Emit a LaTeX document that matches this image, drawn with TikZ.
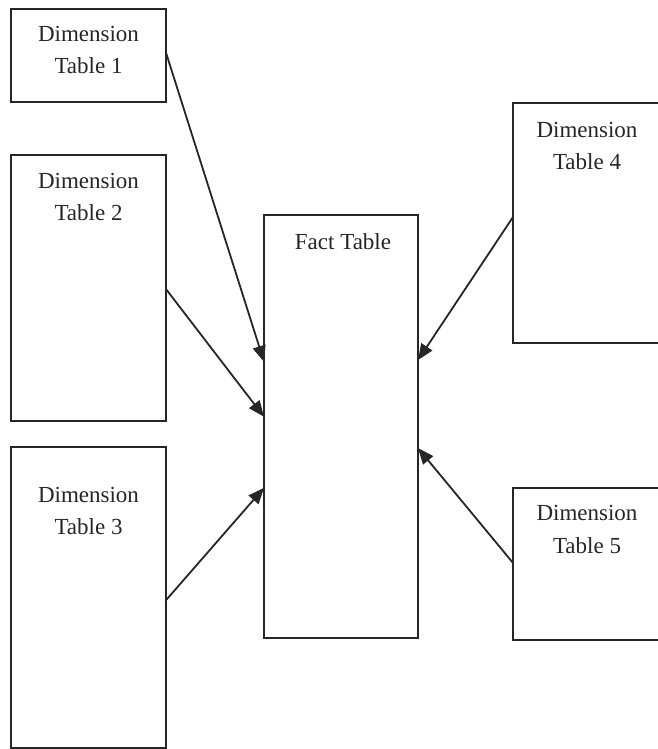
\documentclass[tikz,border=0pt]{standalone}
\usepackage{fontspec}
\setmainfont{Liberation Serif}
\usetikzlibrary{arrows.meta,calc}

\tikzset{
  tablebox/.style={draw=black!85, line width=2pt, fill=white, inner sep=0pt, outer sep=0pt},
  caption/.style={anchor=base, inner sep=0pt, text=black!85, font=\fontsize{23}{23}\selectfont},
  link/.style={draw=black!85, line width=1.8pt, -{Triangle[length=16pt,width=13pt]}}
}

% box with corners (x1,y1) and (x2,y2), measured downward from the top
\newcommand{\tablenode}[5]{%
  \node[tablebox, minimum width={(#4-#2)*1pt}, minimum height={(#5-#3)*1pt}]
    (#1) at ({(#2+#4)/2},{(#3+#5)/2}) {};}

\begin{document}
\begin{tikzpicture}[x=1pt,y=-1pt]
\useasboundingbox[fill=white] (0,0) rectangle (658,749);

% dimension tables on the left
\tablenode{d1}{11}{9}{166}{102}
\tablenode{d2}{11}{155}{166}{421}
\tablenode{d3}{11}{447}{166}{748}
% fact table in the middle
\tablenode{fact}{264}{215}{418}{638}
% dimension tables on the right
\tablenode{d4}{513}{103}{661}{343}
\tablenode{d5}{513}{488}{661}{640}

% captions
\node[caption] (d1a) at ([yshift=-33pt]d1.north) {Dimension};
\node[caption] (d1b) at ([yshift=-65pt]d1.north) {Table 1};
\node[caption] (d2a) at ([yshift=-33pt]d2.north) {Dimension};
\node[caption] (d2b) at ([yshift=-65pt]d2.north) {Table 2};
\node[caption] (d3a) at ([yshift=-55pt]d3.north) {Dimension};
\node[caption] (d3b) at ([yshift=-87pt]d3.north) {Table 3};
\node[caption] (d4a) at ([yshift=-35pt]d4.north) {Dimension};
\node[caption] (d4b) at ([yshift=-66pt]d4.north) {Table 4};
\node[caption] (d5a) at ([yshift=-32pt]d5.north) {Dimension};
\node[caption] (d5b) at ([yshift=-65pt]d5.north) {Table 5};
\node[caption] (facta) at ([xshift=2pt,yshift=-34pt]fact.north) {Fact Table};

% links into the fact table
\draw[link] ($(d1.north east)!0.47!(d1.south east)$) -- ($(fact.north west)!0.347!(fact.south west)$);
\draw[link] ($(d2.north east)!0.504!(d2.south east)$) -- ($(fact.north west)!0.477!(fact.south west)$);
\draw[link] ($(d3.north east)!0.509!(d3.south east)$) -- ($(fact.north west)!0.645!(fact.south west)$);
\draw[link] ($(d4.north west)!0.475!(d4.south west)$) -- ($(fact.north east)!0.343!(fact.south east)$);
\draw[link] ($(d5.north west)!0.493!(d5.south west)$) -- ($(fact.north east)!0.551!(fact.south east)$);
\end{tikzpicture}
\end{document}
